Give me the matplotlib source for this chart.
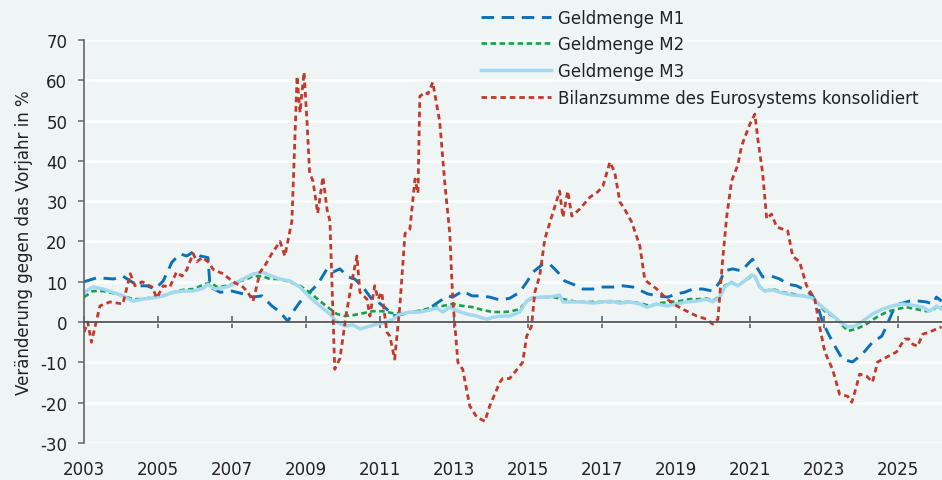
import numpy as np
import matplotlib
matplotlib.use("Agg")
import matplotlib.pyplot as plt

plt.rcParams["font.family"] = ["DejaVu Sans"]
plt.rcParams["lines.scale_dashes"] = False
plt.rcParams["axes.unicode_minus"] = False

# Jahreswachstumsraten (in %), Zeitpunkte als Dezimaljahre
m1_years = [2003.0, 2003.35, 2003.8, 2004.05, 2004.25, 2004.46, 2004.7, 2004.92, 2005.14, 2005.38,
            2005.6, 2005.78, 2005.95, 2006.14, 2006.35, 2006.41, 2006.68, 2007.0, 2007.3, 2007.57,
            2007.81, 2008.08, 2008.3, 2008.51, 2008.7, 2008.84, 2009.1, 2009.32, 2009.57, 2009.73,
            2009.92, 2010.14, 2010.32, 2010.54, 2010.78, 2010.95, 2011.19, 2011.35, 2011.62, 2011.89,
            2012.16, 2012.43, 2012.62, 2012.84, 2012.97, 2013.24, 2013.49, 2013.7, 2013.97, 2014.24,
            2014.51, 2014.78, 2014.97, 2015.14, 2015.41, 2015.59, 2015.81, 2016.0, 2016.22, 2016.49,
            2016.76, 2017.03, 2017.3, 2017.57, 2017.84, 2018.08, 2018.24, 2018.51, 2018.78, 2019.03,
            2019.24, 2019.46, 2019.73, 2020.0, 2020.19, 2020.32, 2020.54, 2020.78, 2021.0, 2021.08,
            2021.22, 2021.35, 2021.59, 2021.81, 2022.03, 2022.27, 2022.54, 2022.7, 2022.84, 2022.97,
            2023.16, 2023.35, 2023.51, 2023.78, 2024.05, 2024.32, 2024.57, 2024.7, 2024.86, 2025.05,
            2025.32, 2025.59, 2025.78, 2025.95, 2026.05, 2026.19]
m1_values = [10.0, 11.0, 10.7, 11.4, 10.2, 9.0, 9.0, 8.2, 10.2, 14.9,
             16.9, 16.4, 17.4, 16.4, 16.0, 8.7, 7.4, 7.7, 7.0, 6.2,
             6.5, 4.0, 2.5, 0.2, 3.2, 5.0, 7.4, 9.4, 13.2, 12.4,
             13.2, 11.2, 10.7, 8.7, 5.7, 5.0, 3.2, 1.5, 2.0, 2.5,
             2.7, 4.0, 5.2, 6.5, 6.2, 7.7, 6.5, 6.5, 6.2, 5.5,
             5.9, 7.4, 9.9, 12.4, 14.4, 14.4, 12.4, 10.2, 9.4, 8.2,
             8.2, 8.7, 8.7, 9.0, 8.7, 7.7, 7.0, 6.5, 6.2, 7.0,
             7.4, 8.2, 8.2, 7.7, 9.9, 12.7, 13.2, 12.7, 14.9, 15.6,
             13.2, 11.2, 11.4, 10.7, 9.4, 9.0, 7.7, 6.5, 4.0, 0.0,
             -3.5, -6.7, -9.2, -9.9, -7.9, -5.0, -3.5, -1.0, 2.5, 4.5,
             5.2, 5.2, 5.0, 4.5, 6.2, 5.2]

m2_years = [2003.0, 2003.24, 2003.51, 2003.78, 2004.05, 2004.32, 2004.59, 2004.86, 2005.14, 2005.41,
            2005.68, 2005.95, 2006.22, 2006.41, 2006.59, 2006.86, 2007.14, 2007.41, 2007.57, 2007.81,
            2008.03, 2008.3, 2008.57, 2008.84, 2009.1, 2009.38, 2009.59, 2009.84, 2010.05, 2010.27,
            2010.54, 2010.81, 2011.08, 2011.35, 2011.62, 2011.89, 2012.16, 2012.43, 2012.7, 2012.97,
            2013.24, 2013.51, 2013.78, 2014.05, 2014.32, 2014.51, 2014.78, 2014.97, 2015.14, 2015.41,
            2015.68, 2015.95, 2016.22, 2016.49, 2016.76, 2017.03, 2017.3, 2017.57, 2017.84, 2018.11,
            2018.3, 2018.57, 2018.84, 2019.11, 2019.38, 2019.65, 2019.84, 2020.0, 2020.19, 2020.32,
            2020.51, 2020.68, 2020.86, 2021.05, 2021.14, 2021.27, 2021.41, 2021.62, 2021.89, 2022.16,
            2022.43, 2022.68, 2022.81, 2023.03, 2023.24, 2023.43, 2023.65, 2023.89, 2024.16, 2024.43,
            2024.7, 2024.97, 2025.24, 2025.51, 2025.78, 2025.95, 2026.08, 2026.19]
m2_values = [6.2, 7.7, 7.7, 7.2, 6.5, 5.7, 5.7, 6.2, 6.5, 7.4,
             8.0, 8.2, 9.2, 9.9, 8.7, 9.0, 9.9, 10.7, 11.4, 11.4,
             10.7, 10.7, 9.9, 9.0, 7.4, 5.2, 3.7, 2.0, 1.5, 1.7,
             2.2, 2.7, 2.7, 2.2, 2.2, 2.5, 3.0, 3.7, 4.0, 4.5,
             4.0, 3.7, 3.0, 2.5, 2.5, 2.6, 3.2, 5.2, 6.0, 6.2,
             6.2, 5.7, 5.2, 5.0, 5.0, 5.0, 5.0, 5.0, 5.0, 4.5,
             4.0, 4.7, 5.0, 5.2, 5.7, 5.7, 5.9, 5.2, 6.5, 9.0,
             9.9, 9.0, 10.2, 11.4, 11.2, 8.7, 7.7, 8.2, 7.4, 7.0,
             6.5, 6.2, 5.0, 2.7, 1.5, 0.0, -2.2, -1.7, -0.5, 1.2,
             2.5, 3.2, 3.7, 3.2, 2.7, 3.0, 4.0, 3.7]

m3_years = [2003.0, 2003.24, 2003.51, 2003.78, 2004.05, 2004.32, 2004.59, 2004.86, 2005.14, 2005.41,
            2005.68, 2005.95, 2006.22, 2006.35, 2006.54, 2006.86, 2007.14, 2007.3, 2007.57, 2007.81,
            2008.08, 2008.3, 2008.57, 2008.84, 2009.1, 2009.38, 2009.65, 2009.84, 2010.05, 2010.27,
            2010.46, 2010.65, 2010.92, 2011.19, 2011.35, 2011.54, 2011.81, 2012.08, 2012.35, 2012.54,
            2012.7, 2012.89, 2013.11, 2013.35, 2013.62, 2013.89, 2014.05, 2014.32, 2014.51, 2014.78,
            2014.97, 2015.1, 2015.38, 2015.59, 2015.86, 2015.95, 2016.22, 2016.49, 2016.76, 2017.03,
            2017.22, 2017.49, 2017.76, 2018.03, 2018.22, 2018.49, 2018.76, 2019.03, 2019.3, 2019.57,
            2019.84, 2020.0, 2020.19, 2020.32, 2020.51, 2020.68, 2020.86, 2021.05, 2021.14, 2021.27,
            2021.41, 2021.62, 2021.89, 2022.16, 2022.43, 2022.68, 2022.81, 2023.03, 2023.24, 2023.43,
            2023.65, 2023.84, 2024.05, 2024.32, 2024.59, 2024.86, 2025.14, 2025.41, 2025.68, 2025.86,
            2026.05, 2026.19]
m3_values = [7.4, 8.7, 8.2, 7.4, 6.5, 5.2, 5.7, 6.0, 6.5, 7.4,
             7.7, 7.7, 8.4, 9.4, 8.2, 8.7, 9.9, 10.7, 11.9, 12.4,
             11.4, 10.7, 10.2, 8.7, 6.2, 4.0, 2.0, 0.0, -1.0, -0.7,
             -1.7, -1.2, -0.5, 0.0, 0.7, 2.0, 2.5, 2.5, 3.0, 3.5,
             2.5, 3.7, 2.7, 2.0, 1.5, 0.7, 1.2, 1.5, 1.5, 2.5,
             5.2, 6.0, 6.2, 6.2, 6.7, 5.0, 5.0, 5.0, 4.7, 5.0,
             5.2, 4.7, 5.0, 4.5, 3.7, 4.5, 4.0, 4.5, 5.0, 5.2,
             5.7, 5.0, 6.2, 8.7, 9.9, 9.0, 10.2, 11.7, 11.4, 8.7,
             7.7, 8.0, 7.2, 6.7, 6.5, 6.0, 5.0, 3.2, 1.7, 0.2,
             -1.2, -1.0, 0.2, 2.0, 3.2, 4.0, 4.5, 4.2, 3.7, 2.7,
             4.0, 3.2]

bilanz_years = [2003.0, 2003.1, 2003.2, 2003.43, 2003.7, 2004.05, 2004.25, 2004.38, 2004.57, 2004.84,
                2004.97, 2005.14, 2005.32, 2005.5, 2005.65, 2005.78, 2005.95, 2006.05, 2006.2, 2006.35,
                2006.5, 2006.76, 2007.03, 2007.3, 2007.43, 2007.57, 2007.76, 2007.89, 2008.08, 2008.3,
                2008.43, 2008.62, 2008.7, 2008.76, 2008.84, 2008.95, 2009.03, 2009.1, 2009.19, 2009.32,
                2009.46, 2009.57, 2009.65, 2009.78, 2009.92, 2010.1, 2010.27, 2010.38, 2010.46, 2010.65,
                2010.73, 2010.86, 2010.95, 2011.05, 2011.19, 2011.27, 2011.4, 2011.54, 2011.68, 2011.81,
                2011.95, 2012.03, 2012.08, 2012.22, 2012.3, 2012.43, 2012.62, 2012.76, 2012.89, 2012.97,
                2013.11, 2013.24, 2013.43, 2013.62, 2013.84, 2013.97, 2014.24, 2014.32, 2014.51, 2014.65,
                2014.86, 2014.97, 2015.1, 2015.19, 2015.32, 2015.46, 2015.65, 2015.86, 2015.95, 2016.08,
                2016.19, 2016.4, 2016.68, 2016.89, 2017.03, 2017.22, 2017.35, 2017.49, 2017.62, 2017.81,
                2018.03, 2018.16, 2018.24, 2018.49, 2018.76, 2019.03, 2019.3, 2019.57, 2019.84, 2020.0,
                2020.14, 2020.27, 2020.38, 2020.51, 2020.68, 2020.78, 2021.0, 2021.14, 2021.22, 2021.35,
                2021.46, 2021.59, 2021.73, 2022.03, 2022.16, 2022.35, 2022.54, 2022.76, 2022.89, 2023.03,
                2023.24, 2023.43, 2023.65, 2023.76, 2023.89, 2023.97, 2024.16, 2024.32, 2024.46, 2024.7,
                2024.97, 2025.19, 2025.3, 2025.41, 2025.54, 2025.68, 2025.86, 2026.05, 2026.19]
bilanz_values = [-2.5, 0.0, -5.0, 4.0, 5.0, 4.5, 12.0, 9.0, 10.0, 8.7,
                 6.0, 9.0, 8.7, 12.4, 11.4, 13.0, 17.0, 15.0, 16.0, 15.0,
                 13.0, 12.0, 10.0, 8.7, 7.4, 5.2, 12.4, 14.0, 17.0, 20.0,
                 16.4, 25.0, 45.0, 61.0, 52.0, 62.0, 49.6, 37.0, 35.0, 27.0,
                 36.0, 28.0, 25.0, -11.7, -9.0, 2.5, 11.4, 16.4, 7.4, 5.7,
                 1.5, 9.0, 5.7, 7.4, -2.5, -3.5, -9.2, 4.0, 22.0, 23.0,
                 35.5, 32.0, 56.0, 57.0, 56.6, 59.5, 49.6, 34.0, 22.0, 5.7,
                 -10.0, -11.7, -20.8, -23.6, -24.6, -20.8, -15.0, -14.0, -14.0, -12.4,
                 -10.0, -3.5, -1.0, 7.4, 11.4, 20.6, 26.3, 32.5, 26.0, 32.5,
                 26.3, 28.0, 31.0, 32.3, 33.7, 39.7, 37.2, 29.8, 28.0, 24.8,
                 18.9, 10.7, 9.9, 8.2, 5.7, 4.0, 2.7, 1.5, 0.7, -0.5,
                 0.7, 15.6, 26.3, 35.0, 39.0, 43.7, 49.0, 51.6, 45.4, 37.0,
                 25.6, 26.8, 23.6, 22.6, 16.4, 14.9, 9.0, 5.7, -1.0, -7.4,
                 -11.7, -17.9, -18.4, -19.9, -15.9, -12.9, -13.4, -14.9, -9.9, -8.7,
                 -7.4, -4.2, -4.2, -5.5, -6.0, -3.0, -2.5, -1.7, -1.2]

labels = ["Geldmenge M1", "Geldmenge M2", "Geldmenge M3",
          "Bilanzsumme des Eurosystems konsolidiert"]
year_ticks = list(range(2003, 2026, 2))
y_ticks = list(range(-30, 71, 10))

bg = "#eff4f4"
text_color = "#222222"

fig = plt.figure(figsize=(9.42, 4.81), dpi=100)
fig.patch.set_facecolor(bg)
ax = fig.add_axes([0.0892, 0.0769, 0.9108, 0.838])
ax.set_facecolor(bg)

l1, = ax.plot(m1_years, m1_values, color="#0a71b9", lw=2.1, dashes=(9, 5.5), label=labels[0])
l2, = ax.plot(m2_years, m2_values, color="#16a04e", lw=1.9, dashes=(4, 2.5), label=labels[1])
l3, = ax.plot(m3_years, m3_values, color="#a3d9ef", lw=2.5, label=labels[2])
l4, = ax.plot(bilanz_years, bilanz_values, color="#c3392c", lw=2.0, dashes=(4, 2.8), label=labels[3])

ax.set_xlim(2003, 2026.2)
ax.set_ylim(-30, 70)
ax.set_yticks(y_ticks)
ax.yaxis.grid(True, color="white", lw=1.8)
ax.set_axisbelow(True)

for s in ["top", "right"]:
    ax.spines[s].set_visible(False)
ax.spines["bottom"].set_position(("data", 0))
ax.spines["bottom"].set_color("#555555")
ax.spines["bottom"].set_linewidth(1.3)
ax.spines["left"].set_color("#666666")
ax.spines["left"].set_linewidth(1.2)

ax.set_xticks(year_ticks)
ax.tick_params(axis="x", direction="inout", length=8, width=1.1, color="#555555", labelbottom=False)
ax.tick_params(axis="y", direction="out", length=4, width=1.1, color="#666666",
               labelsize=12, labelcolor=text_color, pad=8)

# Jahreszahlen unter dem Diagramm statt an der Nulllinie
sec = ax.secondary_xaxis("bottom")
sec.set_xticks(year_ticks)
sec.tick_params(length=0, pad=12, labelsize=12, labelcolor=text_color)
sec.spines["bottom"].set_visible(False)

ax.set_ylabel("Veränderung gegen das Vorjahr in %", fontsize=12, color=text_color)
ax.yaxis.set_label_coords(-0.06, 0.5)

fig.legend(handles=[l1, l2, l3, l4], loc="upper left", bbox_to_anchor=(481 / 942, 0.98),
           frameon=False, fontsize=12, handlelength=4.2, handletextpad=0.45,
           labelspacing=0.52, borderpad=0, borderaxespad=0, labelcolor=text_color)

fig.savefig("out.png", dpi=100, facecolor=bg)
